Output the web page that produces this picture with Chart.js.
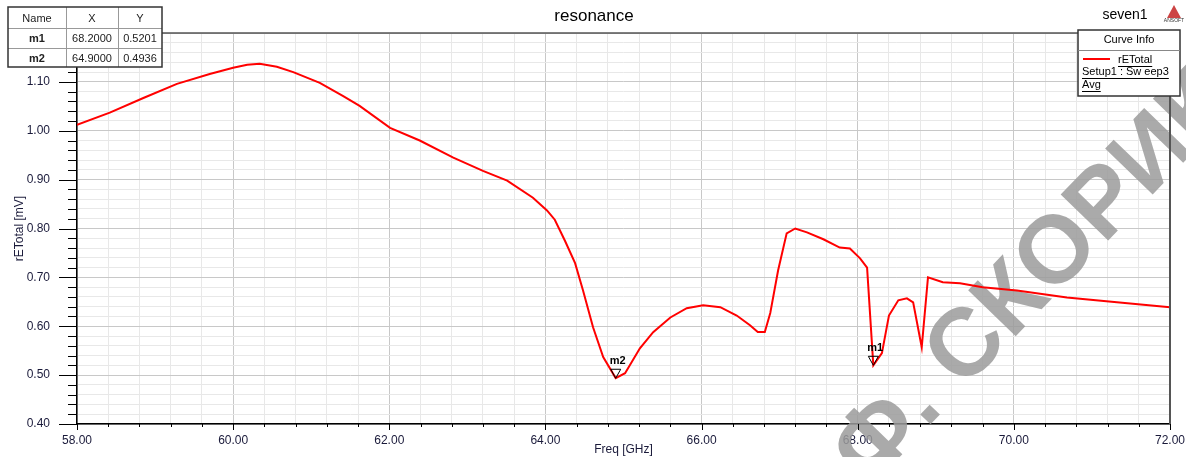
<!DOCTYPE html>
<html>
<head>
<meta charset="utf-8">
<script src="https://cdn.jsdelivr.net/npm/chart.js@4"></script>
<style>
  html, body { margin: 0; padding: 0; background: #fff; }
  #wrap { position: relative; width: 1186px; height: 457px; }
</style>
</head>
<body>
<div id="wrap"><canvas id="resChart" width="1186" height="457"></canvas></div>
<script>
// rETotal vs frequency
const freq = [58.00, 58.42, 58.85, 59.28, 59.70, 60.00, 60.18, 60.34, 60.56, 60.77,
  61.11, 61.41, 61.62, 62.01, 62.39, 62.82, 63.20, 63.51, 63.84, 64.02,
  64.12, 64.25, 64.38, 64.48, 64.61, 64.74, 64.90, 65.02, 65.21, 65.38,
  65.60, 65.81, 66.02, 66.24, 66.45, 66.62, 66.72, 66.81, 66.88, 66.98,
  67.09, 67.20, 67.35, 67.56, 67.77, 67.90, 68.03, 68.12, 68.20, 68.31,
  68.40, 68.52, 68.63, 68.71, 68.82, 68.90, 69.09, 69.31, 69.60, 70.04,
  70.68, 71.32, 72.00];
const rETotal = [1.012, 1.037, 1.067, 1.096, 1.116, 1.129, 1.135, 1.137, 1.131, 1.120,
  1.098, 1.071, 1.051, 1.006, 0.980, 0.945, 0.918, 0.898, 0.863, 0.837,
  0.818, 0.775, 0.729, 0.674, 0.598, 0.537, 0.494, 0.504, 0.555, 0.588,
  0.618, 0.637, 0.643, 0.639, 0.622, 0.602, 0.588, 0.588, 0.627, 0.714,
  0.790, 0.800, 0.792, 0.778, 0.761, 0.759, 0.739, 0.720, 0.520, 0.545,
  0.622, 0.653, 0.657, 0.649, 0.557, 0.700, 0.690, 0.688, 0.680, 0.673,
  0.659, 0.649, 0.639];

const markerNames = ['m1', 'm2'];
const markerX = [68.2000, 64.9000];
const markerY = [0.5201, 0.4936];

const FONT = 'Arial, "Liberation Sans", sans-serif';
const isMajor = (v, step) => Math.abs(v / step - Math.round(v / step)) < 1e-6;

const points = freq.map((f, i) => ({ x: f, y: rETotal[i] }));

const extras = {
  id: 'extras',
  beforeDatasetsDraw(chart) {
    // watermark
    const c = chart.ctx;
    c.save();
    c.translate(869, 488);
    c.rotate(-46 * Math.PI / 180);
    c.font = 'bold 96px "Liberation Sans", Arial, sans-serif';
    c.fillStyle = 'rgba(155,155,155,0.85)';
    c.textBaseline = 'alphabetic';
    c.fillText('Ф. СКОРИК', 0, 0);
    c.restore();
  },
  afterDraw(chart) {
    const c = chart.ctx;
    const xs = chart.scales.x, ys = chart.scales.y;
    const a = chart.chartArea;
    c.save();

    // axis ticks
    c.strokeStyle = '#000';
    c.lineWidth = 1;
    ys.ticks.forEach(t => {
      const py = Math.round(ys.getPixelForValue(t.value)) + 0.5;
      const len = isMajor(t.value, 0.1) ? 18 : 9;
      c.beginPath(); c.moveTo(a.left - len, py); c.lineTo(a.left, py); c.stroke();
    });
    xs.ticks.forEach(t => {
      const px = Math.round(xs.getPixelForValue(t.value)) + 0.5;
      const len = isMajor(t.value, 2) ? 6 : 3;
      c.beginPath(); c.moveTo(px, a.bottom); c.lineTo(px, a.bottom + len); c.stroke();
    });

    // frame top/right
    c.strokeStyle = '#555';
    c.lineWidth = 1.5;
    c.beginPath(); c.moveTo(a.left, a.top); c.lineTo(a.right, a.top); c.stroke();
    c.lineWidth = 2;
    c.beginPath(); c.moveTo(a.right, a.top); c.lineTo(a.right, a.bottom); c.stroke();

    // axis titles
    c.fillStyle = '#1a1a3a';
    c.font = '12px ' + FONT;
    c.textAlign = 'center';
    c.textBaseline = 'middle';
    c.fillText('Freq [GHz]', (a.left + a.right) / 2, 450);
    c.save();
    c.translate(20, (a.top + a.bottom) / 2);
    c.rotate(-Math.PI / 2);
    c.fillText('rETotal [mV]', 0, 0);
    c.restore();

    // title and project name
    c.fillStyle = '#000';
    c.font = '17px ' + FONT;
    c.fillText('resonance', 594, 16);
    c.font = '14px ' + FONT;
    c.fillText('seven1', 1125, 15);

    // small logo
    c.fillStyle = '#c44';
    c.beginPath(); c.moveTo(1174, 5); c.lineTo(1167, 18); c.lineTo(1181, 18); c.closePath(); c.fill();
    c.fillStyle = '#333';
    c.font = '5px ' + FONT;
    c.fillText('ANSOFT', 1174, 21);

    // markers
    markerNames.forEach((n, i) => {
      const px = xs.getPixelForValue(markerX[i]);
      const py = ys.getPixelForValue(markerY[i]);
      c.strokeStyle = '#000';
      c.lineWidth = 1;
      c.beginPath();
      c.moveTo(px, py); c.lineTo(px - 5, py - 9); c.lineTo(px + 5, py - 9); c.closePath();
      c.stroke();
      c.fillStyle = '#000';
      c.font = 'bold 11px ' + FONT;
      c.textAlign = 'left';
      c.fillText(n, px - 6, py - 17);
    });

    // marker table
    const tx = [8, 66, 118, 162], ty = [7, 28, 48, 67];
    c.fillStyle = '#fff';
    c.fillRect(tx[0], ty[0], tx[3] - tx[0], ty[3] - ty[0]);
    c.strokeStyle = '#999';
    c.lineWidth = 1;
    for (let k = 1; k < 3; k++) {
      c.beginPath(); c.moveTo(tx[k] + 0.5, ty[0]); c.lineTo(tx[k] + 0.5, ty[3]); c.stroke();
      c.beginPath(); c.moveTo(tx[0], ty[k] + 0.5); c.lineTo(tx[3], ty[k] + 0.5); c.stroke();
    }
    c.strokeStyle = '#333';
    c.lineWidth = 1.5;
    c.strokeRect(tx[0], ty[0], tx[3] - tx[0], ty[3] - ty[0]);
    c.fillStyle = '#222';
    c.textAlign = 'center';
    c.font = '11px ' + FONT;
    const head = ['Name', 'X', 'Y'];
    head.forEach((h, k) => c.fillText(h, (tx[k] + tx[k + 1]) / 2, (ty[0] + ty[1]) / 2 + 1));
    markerNames.forEach((n, i) => {
      const cy = (ty[i + 1] + ty[i + 2]) / 2 + 1;
      c.font = 'bold 11px ' + FONT;
      c.fillText(n, (tx[0] + tx[1]) / 2, cy);
      c.font = '11px ' + FONT;
      c.fillText(markerX[i].toFixed(4), (tx[1] + tx[2]) / 2, cy);
      c.fillText(markerY[i].toFixed(4), (tx[2] + tx[3]) / 2, cy);
    });

    // curve info box
    const bx = 1078, by = 30, bw = 102, bh = 66;
    c.fillStyle = '#fff';
    c.fillRect(bx, by, bw, bh);
    c.strokeStyle = '#333';
    c.lineWidth = 1.5;
    c.strokeRect(bx, by, bw, bh);
    c.lineWidth = 1;
    c.strokeStyle = '#888';
    c.beginPath(); c.moveTo(bx, by + 20.5); c.lineTo(bx + bw, by + 20.5); c.stroke();
    c.fillStyle = '#000';
    c.font = '11px ' + FONT;
    c.fillText('Curve Info', bx + bw / 2, by + 10);
    c.strokeStyle = '#f00';
    c.lineWidth = 2;
    c.beginPath(); c.moveTo(bx + 5, by + 29); c.lineTo(bx + 32, by + 29); c.stroke();
    c.textAlign = 'left';
    const lines = [['rETotal', bx + 40, by + 30], ['Setup1 : Sw eep3', bx + 4, by + 42], ['Avg', bx + 4, by + 55]];
    c.strokeStyle = '#000';
    c.lineWidth = 1;
    lines.forEach(([s, lx, ly]) => {
      c.fillText(s, lx, ly);
      const w = c.measureText(s).width;
      c.beginPath(); c.moveTo(lx, ly + 6.5); c.lineTo(lx + w, ly + 6.5); c.stroke();
    });

    c.restore();
  }
};

const ctx = document.getElementById('resChart').getContext('2d');
const resChart = new Chart(ctx, {
  type: 'line',
  data: {
    datasets: [{
      label: 'rETotal',
      data: points,
      borderColor: '#ff0000',
      borderWidth: 2,
      pointRadius: 0,
      tension: 0,
      fill: false
    }]
  },
  options: {
    responsive: false,
    animation: false,
    layout: { padding: { top: 33, right: 16, left: 0, bottom: 0 } },
    plugins: { legend: { display: false }, tooltip: { enabled: false } },
    scales: {
      x: {
        type: 'linear',
        min: 58, max: 72,
        afterFit: s => { s.height = 33; s.paddingLeft = 0; s.paddingRight = 0; },
        border: { color: '#000', width: 1.5 },
        grid: {
          drawTicks: false,
          color: c => isMajor(c.tick.value, 2) ? '#c8c8c8' : '#e8e8e8',
          lineWidth: 1
        },
        ticks: {
          stepSize: 0.4,
          maxTicksLimit: 100,
          autoSkip: false,
          maxRotation: 0,
          padding: 9,
          color: '#1a1a3a',
          font: { family: FONT, size: 12 },
          callback: v => isMajor(v, 2) ? v.toFixed(2) : ''
        }
      },
      y: {
        min: 0.4, max: 1.2,
        afterFit: s => { s.width = 77; s.paddingTop = 0; s.paddingBottom = 0; },
        border: { color: '#000', width: 1.5 },
        grid: {
          drawTicks: false,
          color: c => isMajor(c.tick.value, 0.1) ? '#c8c8c8' : '#e8e8e8',
          lineWidth: 1
        },
        ticks: {
          stepSize: 0.02,
          maxTicksLimit: 100,
          autoSkip: false,
          padding: 27,
          color: '#1a1a3a',
          font: { family: FONT, size: 12 },
          callback: v => isMajor(v, 0.1) ? v.toFixed(2) : ''
        }
      }
    }
  },
  plugins: [extras]
});
</script>
</body>
</html>
